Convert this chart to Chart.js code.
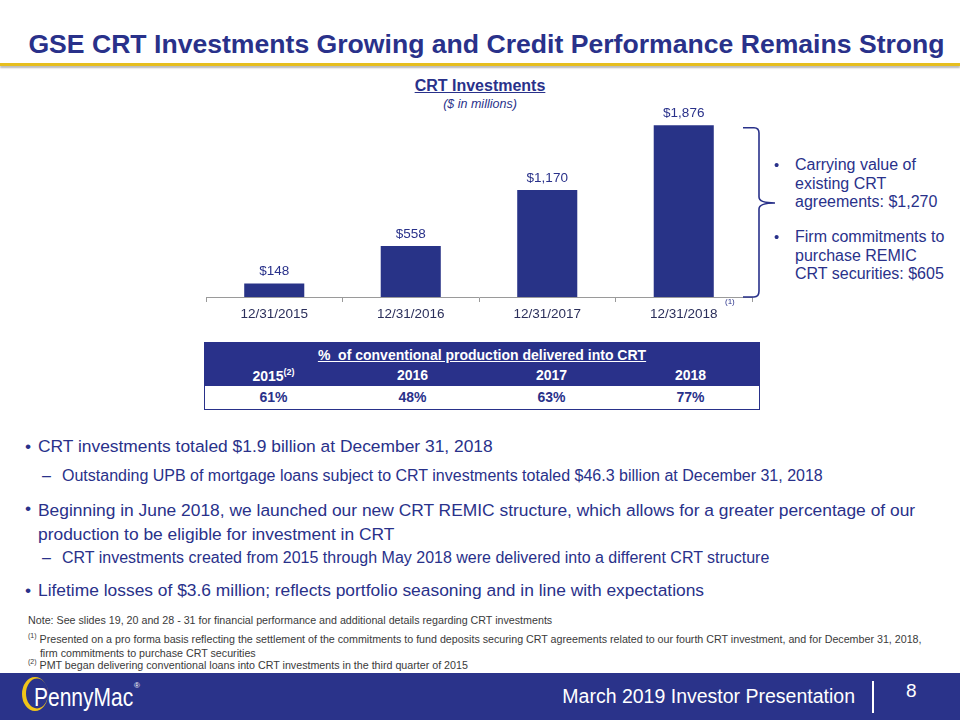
<!DOCTYPE html>
<html>
<head>
<meta charset="utf-8">
<script src="https://cdn.jsdelivr.net/npm/chart.js@4/dist/chart.umd.min.js"></script>
<style>
  body { margin: 0; background: #fff; font-family: "Liberation Sans", Arial, sans-serif; }
  #slide { position: relative; width: 960px; height: 720px; overflow: hidden; background: #fff; }
  .abs { position: absolute; white-space: nowrap; }
  #title { left: 0; width: 973px; top: 29px; text-align: center; font-size: 26.6px; font-weight: bold; color: #29318a; }
  #goldline { left: 0; top: 63px; width: 960px; height: 3px; background: #e6be1e; box-shadow: 0 2px 2px #b8b8b8; }
  #ctitle { left: 380px; width: 200px; top: 77px; text-align: center; font-size: 16px; font-weight: bold; color: #29318a; text-decoration: underline; }
  #csub { left: 380px; width: 200px; top: 97px; text-align: center; font-size: 12.5px; font-style: italic; color: #29318a; }
  #chartBox { position: absolute; left: 205px; top: 100px; width: 548px; height: 228px; }
  #note1sup { left: 725px; top: 297px; font-size: 8px; color: #29318a; }
  .side { font-size: 16px; color: #29318a; line-height: 18.5px; }
  .side span.b { position: absolute; left: -21px; top: 0; font-size: 15px; }
  #tbl { position: absolute; left: 204px; top: 342px; width: 556px; height: 68px; border: 1px solid #29318a; box-sizing: border-box; }
  #tblHead { position: absolute; left: 0; top: 0; width: 100%; height: 43px; background: #29318a; }
  #tblTitle { left: 0; width: 100%; top: 4px; text-align: center; color: #fff; font-weight: bold; font-size: 14px; }
  #tblTitle span { text-decoration: underline; }
  .cell { position: absolute; width: 139px; text-align: center; font-weight: bold; font-size: 14px; }
  .bul { font-size: 17.4px; color: #29318a; }
  .sub { font-size: 16px; color: #29318a; }
  .notes { font-size: 10.7px; color: #3a3a3a; }
  #footer { position: absolute; left: 0; top: 673px; width: 960px; height: 47px; background: #2a338a; }
  #logoText { left: 34px; top: 683px; font-size: 25px; line-height: 28px; color: #fff; transform: scaleX(0.84); transform-origin: 0 0; }
</style>
</head>
<body>
<div id="slide">
  <div class="abs" id="title">GSE CRT Investments Growing and Credit Performance Remains Strong</div>
  <div class="abs" id="goldline"></div>

  <div class="abs" id="ctitle">CRT Investments</div>
  <div class="abs" id="csub">($ in millions)</div>
  <div id="chartBox"><canvas id="myBarChart"></canvas></div>
  <div class="abs" id="note1sup">(1)</div>

  <svg class="abs" style="left:740px;top:120px" width="40" height="190">
    <path d="M3 7.7 H14 Q19 7.7 19 13 V77 Q19 83 35 83 Q19 83 19 89 V171 Q19 177 14 177 H3" fill="none" stroke="#29318a" stroke-width="1.6"/>
  </svg>

  <div class="abs side" style="left:795px;top:156px"><span class="b">&#8226;</span>Carrying value of<br>existing CRT<br>agreements: $1,270</div>
  <div class="abs side" style="left:795px;top:228px"><span class="b">&#8226;</span>Firm commitments to<br>purchase REMIC<br>CRT securities: $605</div>

  <div id="tbl">
    <div id="tblHead"></div>
    <div class="abs" id="tblTitle"><span>%&nbsp; of conventional production delivered into CRT</span></div>
    <div id="tblCells"></div>
  </div>

  <div class="abs bul" style="left:25px;top:436px">&#8226;</div>
  <div class="abs bul" style="left:38px;top:436px">CRT investments totaled $1.9 billion at December 31, 2018</div>
  <div class="abs sub" style="left:42px;top:467px">&#8211;</div>
  <div class="abs sub" style="left:62px;top:467px">Outstanding UPB of mortgage loans subject to CRT investments totaled $46.3 billion at December 31, 2018</div>
  <div class="abs bul" style="left:25px;top:498px">&#8226;</div>
  <div class="abs bul" style="left:38px;top:498px;line-height:24px">Beginning in June 2018, we launched our new CRT REMIC structure, which allows for a greater percentage of our<br>production to be eligible for investment in CRT</div>
  <div class="abs sub" style="left:42px;top:549px">&#8211;</div>
  <div class="abs sub" style="left:62px;top:549px">CRT investments created from 2015 through May 2018 were delivered into a different CRT structure</div>
  <div class="abs bul" style="left:25px;top:580px">&#8226;</div>
  <div class="abs bul" style="left:38px;top:580px">Lifetime losses of $3.6 million; reflects portfolio seasoning and in line with expectations</div>

  <div class="abs notes" style="left:28px;top:614px">Note: See slides 19, 20 and 28 - 31 for financial performance and additional details regarding CRT investments</div>
  <div class="abs notes" style="left:28px;top:629px;line-height:14px"><sup style="font-size:7px">(1)</sup> Presented on a pro forma basis reflecting the settlement of the commitments to fund deposits securing CRT agreements related to our fourth CRT investment, and for December 31, 2018,<br>&nbsp;&nbsp;&nbsp;&nbsp;firm commitments to purchase CRT securities</div>
  <div class="abs notes" style="left:28px;top:658px"><sup style="font-size:7px">(2)</sup> PMT began delivering conventional loans into CRT investments in the third quarter of 2015</div>

  <div id="footer"></div>
  <svg class="abs" style="left:0;top:673px" width="60" height="47">
    <path fill-rule="evenodd" fill="#f0c419"
      d="M22 21 A13 17 0 1 0 48 21 A13 17 0 1 0 22 21 Z M26 20.5 A11 15 0 1 0 48 20.5 A11 15 0 1 0 26 20.5 Z"/>
  </svg>
  <div class="abs" id="logoText">PennyMac</div>
  <div class="abs" style="left:134px;top:681px;font-size:8px;color:#fff">&#174;</div>
  <div class="abs" style="left:540px;width:315px;top:685px;text-align:right;font-size:19.5px;color:#fff">March 2019 Investor Presentation</div>
  <div class="abs" style="left:872px;top:681px;width:2px;height:32px;background:#fff"></div>
  <div class="abs" style="left:906px;top:680px;font-size:19px;color:#fff">8</div>
</div>

<script>
// bar chart data
const dates = ["12/31/2015", "12/31/2016", "12/31/2017", "12/31/2018"];
const investments = [148, 558, 1170, 1876];

// table data
const tableYears = ["2015", "2016", "2017", "2018"];
const tableNotes = ["(2)", "", "", ""];
const tablePcts = ["61%", "48%", "63%", "77%"];

const navy = "#29318a";

let cells = document.getElementById("tblCells");
for (let i = 0; i < tableYears.length; i++) {
    let y = document.createElement("div");
    y.className = "cell";
    y.style.left = (i * 139 - 1) + "px";
    y.style.top = "24px";
    y.style.color = "#fff";
    y.innerHTML = tableYears[i] + (tableNotes[i] ? "<sup style='font-size:9px'>" + tableNotes[i] + "</sup>" : "");
    cells.appendChild(y);

    let p = document.createElement("div");
    p.className = "cell";
    p.style.left = (i * 139 - 1) + "px";
    p.style.top = "46px";
    p.style.color = navy;
    p.innerHTML = tablePcts[i];
    cells.appendChild(p);
}

const valueLabels = {
    id: "valueLabels",
    afterDatasetsDraw(chart) {
        const ctx = chart.ctx;
        const meta = chart.getDatasetMeta(0);
        ctx.save();
        ctx.font = "13.5px 'Liberation Sans', Arial";
        ctx.fillStyle = navy;
        ctx.textAlign = "center";
        ctx.textBaseline = "middle";
        meta.data.forEach((bar, i) => {
            ctx.fillText("$" + investments[i].toLocaleString("en-US"), bar.x, bar.y - 12);
        });
        ctx.restore();
    }
};

const ctx = document.getElementById("myBarChart").getContext("2d");
let chart = new Chart(ctx, {
    type: "bar",
    data: {
        labels: dates,
        datasets: [{
            data: investments,
            backgroundColor: "#283387",
            borderWidth: 0,
            categoryPercentage: 1,
            barPercentage: 0.44
        }]
    },
    options: {
        responsive: true,
        maintainAspectRatio: false,
        animation: false,
        layout: { padding: { top: 14, left: 1, right: 1, bottom: 0 } },
        plugins: { legend: { display: false }, tooltip: { enabled: false } },
        scales: {
            y: { display: false, min: 0, max: 2000 },
            x: {
                afterFit: s => { s.height = 31; },
                border: { display: true, color: "#9a9a9a", width: 1 },
                grid: { offset: true, drawOnChartArea: false, drawTicks: true, tickLength: 5, color: "#9a9a9a" },
                ticks: { color: "#2b2f5b", padding: 4, font: { family: "'Liberation Sans', Arial", size: 13.5 } }
            }
        }
    },
    plugins: [valueLabels]
});
</script>
</body>
</html>
